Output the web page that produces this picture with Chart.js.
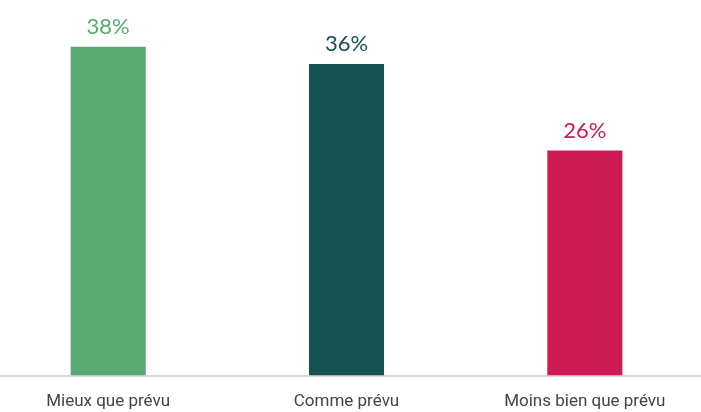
<!DOCTYPE html>
<html>
<head>
<meta charset="utf-8">
<script src="https://cdn.jsdelivr.net/npm/chart.js@4/dist/chart.umd.min.js"></script>
<style>
  html, body { margin: 0; padding: 0; background: #fff; overflow: hidden; }
  .wrap { position: absolute; left: -11px; top: 0; width: 715px; height: 428px; }
</style>
</head>
<body>
<div class="wrap"><canvas id="chart"></canvas></div>
<script>
var categories = ["Mieux que prévu", "Comme prévu", "Moins bien que prévu"];
var values = [38, 36, 26];
var colors = ["#5aa974", "#165250", "#cc1b52"];

// value labels above the bars
var valueLabels = {
  id: "valueLabels",
  afterDatasetsDraw: function (chart) {
    var ctx = chart.ctx;
    var meta = chart.getDatasetMeta(0);
    ctx.save();
    ctx.font = "22px Lato";
    ctx.textAlign = "center";
    ctx.textBaseline = "bottom";
    meta.data.forEach(function (bar, i) {
      ctx.fillStyle = colors[i];
      ctx.fillText(values[i] + "%", bar.x, bar.y - 9);
    });
    ctx.restore();
  }
};

var ctx = document.getElementById("chart").getContext("2d");
var myChart = new Chart(ctx, {
  type: "bar",
  data: {
    labels: categories,
    datasets: [{
      data: values,
      backgroundColor: colors,
      barPercentage: 0.315,
      categoryPercentage: 1
    }]
  },
  options: {
    responsive: true,
    maintainAspectRatio: false,
    animation: false,
    layout: { padding: 0 },
    plugins: {
      legend: { display: false },
      tooltip: { enabled: false }
    },
    scales: {
      x: {
        grid: { display: false, drawTicks: false },
        border: { color: "#d9d9d9", width: 2 },
        ticks: {
          color: "#444",
          padding: 16,
          font: { family: "'Liberation Sans Narrow', Roboto, sans-serif", size: 17 }
        }
      },
      y: {
        display: false,
        min: 0,
        max: 43.4
      }
    }
  },
  plugins: [valueLabels]
});
</script>
</body>
</html>
